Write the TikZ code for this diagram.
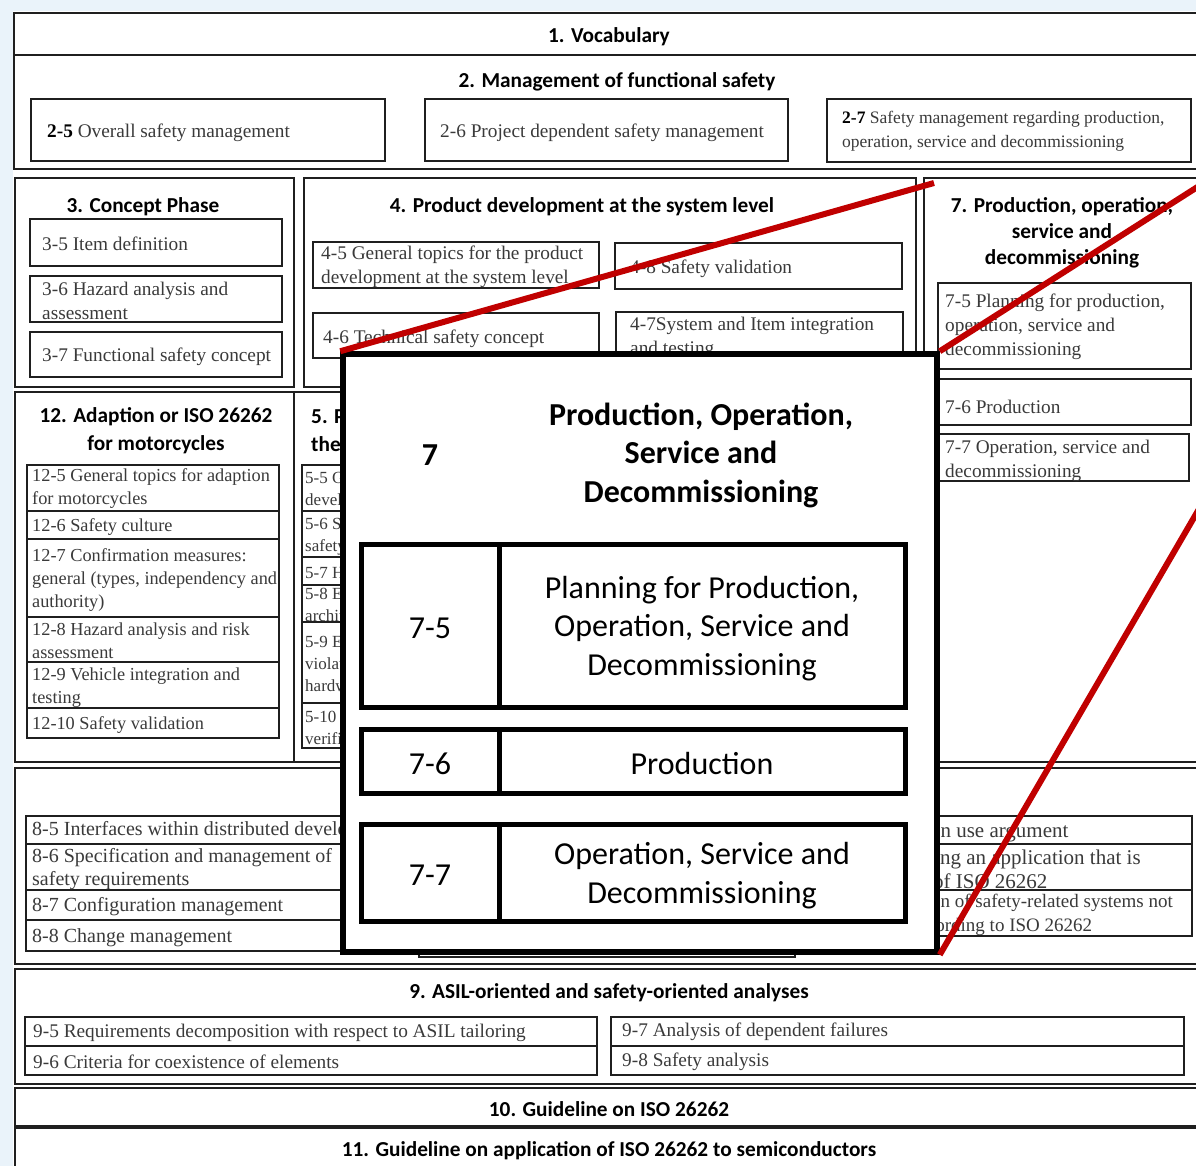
\documentclass[tikz,border=0pt]{standalone}
\usepackage{fontspec}
\setmainfont{Liberation Serif}
\newfontfamily\headfont{Carlito}

\definecolor{pagebg}{HTML}{EAF3FA}
\definecolor{framecol}{HTML}{1F1F1F}
\definecolor{bodycol}{HTML}{3A3A3A}
\definecolor{calloutred}{HTML}{C00000}

% rectangle node from its corners: [style]{x1}{y1}{x2}{y2}{name}{text}
\newcommand\rectnode[7][]{\node[#1,minimum width={(#4-#2)*1pt},minimum height={(#5-#3)*1pt}] (#6) at ({(#2+#4)/2},{(#3+#5)/2}) {#7};}

\begin{document}
\begin{tikzpicture}[x=1pt,y=-1pt,
  frm/.style={draw=framecol,line width=1.6pt,inner sep=0pt,outer sep=0pt},
  ibox/.style={draw=framecol,line width=1.4pt,inner sep=0pt,outer sep=0pt},
  hd/.style={font=\headfont\bfseries\fontsize{21.3}{26}\selectfont,text=black,align=center,inner sep=0pt,yshift=-1.5pt},
  bt/.style={font=\fontsize{19.3}{23.8}\selectfont,text=bodycol,align=left,inner sep=0pt,anchor=west,yshift=-2pt},
  btsmall/.style={bt,font=\fontsize{17.5}{24}\selectfont},
  btmoto/.style={bt,font=\fontsize{18.3}{23}\selectfont},
  bthw/.style={bt,font=\fontsize{17}{22}\selectfont},
  btsup/.style={bt,font=\fontsize{20}{23.5}\selectfont},
  btright/.style={bt,font=\fontsize{21}{24}\selectfont},
  zoombox/.style={draw=black,fill=white,line width=5.5pt,inner sep=0pt},
  cell/.style={draw=black,line width=5pt,inner sep=0pt,align=center,text depth=0pt,
    font=\headfont\fontsize{32}{38.5}\selectfont},
  celltext/.style={inner sep=0pt,align=center,font=\headfont\fontsize{32}{38.5}\selectfont,yshift=-3pt},
  zhead/.style={font=\headfont\bfseries\fontsize{32}{38.5}\selectfont,align=center,inner sep=0pt,yshift=-3pt},
  callout/.style={draw=calloutred,line width=6pt}]

\useasboundingbox (0,0) rectangle (1196,1166);
\fill[pagebg] (0,0) rectangle (1196,1166);
\fill[white] (13,11) rectangle (1196,1166);

\begin{scope}
\clip (0,0) rectangle (1196,1166);

% ---------- part frames ----------
\rectnode[frm]{14}{13}{1210}{55}{voc}{}
\rectnode[frm]{14}{55}{1210}{169}{mgmt}{}
\rectnode[frm]{15}{178}{294}{387}{concept}{}
\rectnode[frm]{304}{178}{916}{387}{sysdev}{}
\rectnode[frm]{924}{178}{1210}{762}{prod}{}
\rectnode[frm]{15}{392}{294}{762}{moto}{}
\rectnode[frm]{294}{392}{700}{762}{hwdev}{}
\rectnode[frm]{15}{768}{1210}{964}{support}{}
\rectnode[frm]{15}{969}{1210}{1084}{asil}{}
\rectnode[frm]{15}{1088}{1210}{1126}{guide}{}
\rectnode[frm]{15}{1128}{1210}{1180}{semi}{}

% ---------- part 1 and 2 ----------
\node[hd] (h1) at (609,35) {1. Vocabulary};
\node[hd] (h2) at (617,80) {2. Management of functional safety};
\rectnode[ibox]{31}{99}{385}{161}{b25}{}
\rectnode[ibox]{425}{99}{788}{161}{b26}{}
\rectnode[ibox]{827}{99}{1191}{162}{b27}{}
\node[bt] (t25) at (47,131) {\textcolor{black}{\bfseries 2-5} Overall safety management};
\node[bt] (t26) at (440,131) {2-6 Project dependent safety management};
\node[btsmall] (t27) at (842,129) {\textcolor{black}{\bfseries 2-7} Safety management regarding production,\\operation, service and decommissioning};

% ---------- part 3 ----------
\node[hd] (h3) at (143,205) {3. Concept Phase};
\rectnode[ibox]{30}{219}{282}{266}{b35}{}
\rectnode[ibox]{30}{276}{282}{322}{b36}{}
\rectnode[ibox]{30}{332}{282}{377}{b37}{}
\node[bt] (t35) at (42,242) {3-5 Item definition};
\node[bt] (t36) at (42,299) {3-6 Hazard analysis and\\assessment};
\node[bt] (t37) at (42,355) {3-7 Functional safety concept};

% ---------- part 4 ----------
\node[hd] (h4) at (582,205) {4. Product development at the system level};
\rectnode[ibox]{313}{242}{599}{288}{b45}{}
\rectnode[ibox]{615}{243}{902}{289}{b48}{}
\rectnode[ibox]{313}{313}{599}{358}{b46}{}
\rectnode[ibox]{616}{312}{903}{380}{b47}{}
\node[bt] (t45) at (321,265) {4-5 General topics for the product\\development at the system level};
\node[bt] (t48) at (630,267) {4-8 Safety validation};
\node[bt] (t46) at (323,337) {4-6 Technical safety concept};
\node[bt] (t47) at (630,336) {4-7System and Item integration\\and testing};

% ---------- part 7 ----------
\node[hd] (h7) at (1062,231) {7. Production, operation,\\service and\\decommissioning};
\rectnode[ibox]{938}{283}{1191}{369}{b75}{}
\rectnode[ibox]{938}{379}{1191}{425}{b76}{}
\rectnode[ibox]{938}{434}{1189}{481}{b77}{}
\node[bt] (t75) at (945,325) {7-5 Planning for production,\\operation, service and\\decommissioning};
\node[bt] (t76) at (945,405) {7-6 Production};
\node[bt] (t77) at (945,459) {7-7 Operation, service and\\decommissioning};

% ---------- part 12 ----------
\node[hd,font=\headfont\bfseries\fontsize{21.3}{28}\selectfont] (h12) at (156,429) {12. Adaption or ISO 26262\\for motorcycles};
\rectnode[ibox]{27}{465}{279}{511}{b125}{}
\rectnode[ibox]{27}{511}{279}{539}{b126}{}
\rectnode[ibox]{27}{539}{279}{617}{b127}{}
\rectnode[ibox]{27}{617}{279}{662}{b128}{}
\rectnode[ibox]{27}{662}{279}{708}{b129}{}
\rectnode[ibox]{27}{708}{279}{738}{b1210}{}
\node[btmoto] (t125) at (32,487) {12-5 General topics for adaption\\for motorcycles};
\node[btmoto] (t126) at (32,525) {12-6 Safety culture};
\node[btmoto] (t127) at (32,578) {12-7 Confirmation measures:\\general (types, independency and\\authority)};
\node[btmoto] (t128) at (32,639) {12-8 Hazard analysis and risk\\assessment};
\node[btmoto] (t129) at (32,686) {12-9 Vehicle integration and\\testing};
\node[btmoto] (t1210) at (32,723) {12-10 Safety validation};

% ---------- part 5 (mostly under the enlarged view) ----------
\node[hd,anchor=west,align=left,font=\headfont\bfseries\fontsize{21.3}{28}\selectfont] (h5) at (311,429) {5. Product development\\the};
\rectnode[ibox]{302}{465}{560}{511}{b55}{}
\rectnode[ibox]{302}{511}{560}{557}{b56}{}
\rectnode[ibox]{302}{557}{560}{585}{b57}{}
\rectnode[ibox]{302}{585}{560}{622}{b58}{}
\rectnode[ibox]{302}{622}{560}{703}{b59}{}
\rectnode[ibox]{302}{703}{560}{748}{b510}{}
\node[bthw] (t55) at (305,488) {5-5 General\\development};
\node[bthw] (t56) at (305,534) {5-6 Specification\\safety};
\node[bthw] (t57) at (305,571) {5-7 Hardware};
\node[bthw] (t58) at (305,603) {5-8 Evaluation\\architectural};
\node[bthw] (t59) at (305,662) {5-9 Evaluation\\violations\\hardware};
\node[bthw] (t510) at (305,726) {5-10 Hardware\\verification};

% ---------- part 8 ----------
\rectnode[ibox]{26}{816}{410}{844}{b85}{}
\rectnode[ibox]{26}{844}{410}{890}{b86}{}
\rectnode[ibox]{26}{890}{410}{920}{b87}{}
\rectnode[ibox]{26}{920}{410}{951}{b88}{}
\rectnode[ibox]{419}{816}{795}{957}{b8mid}{}
\rectnode[ibox]{821}{816}{1192}{844}{b814}{}
\rectnode[ibox]{821}{844}{1192}{890}{b815}{}
\rectnode[ibox]{821}{890}{1192}{936}{b816}{}
\node[btsup] (t85) at (32,829) {8-5 Interfaces within distributed developments};
\node[btsup] (t86) at (32,867) {8-6 Specification and management of\\safety requirements};
\node[btsup] (t87) at (32,905) {8-7 Configuration management};
\node[btsup] (t88) at (32,936) {8-8 Change management};
\node[btright] (t814) at (826,831) {8-14 Proven in use argument};
\node[btright] (t815) at (825,869) {8-15 Interfacing an application that is\\out of scope of ISO 26262};
\node[bt,font=\fontsize{19}{24}\selectfont] (t816) at (827,913) {8-16 Integration of safety-related systems not\\developed according to ISO 26262};

% ---------- part 9, 10, 11 ----------
\node[hd] (h9) at (609,991) {9. ASIL-oriented and safety-oriented analyses};
\rectnode[ibox]{25}{1017}{597}{1046}{b95}{}
\rectnode[ibox]{25}{1046}{597}{1075}{b96}{}
\rectnode[ibox]{611}{1017}{1184}{1046}{b97}{}
\rectnode[ibox]{611}{1046}{1184}{1075}{b98}{}
\node[bt] (t95) at (33,1031) {9-5 Requirements decomposition with respect to ASIL tailoring};
\node[bt] (t96) at (33,1060) {9-6 Criteria for coexistence of elements};
\node[bt] (t97) at (622,1030) {9-7 Analysis of dependent failures};
\node[bt] (t98) at (622,1060) {9-8 Safety analysis};
\node[hd] (h10) at (609,1108) {10. Guideline on ISO 26262};
\node[hd] (h11) at (609,1149) {11. Guideline on application of ISO 26262 to semiconductors};

% ---------- enlarged view of part 7 ----------
\rectnode[zoombox]{343}{354}{937}{952}{zoom}{}
\node[zhead] (z7) at (430,452) {7};
\node[zhead] (ztitle) at (701,452) {Production, Operation,\\Service and\\Decommissioning};
\rectnode[cell]{361}{544}{499}{707}{c75a}{}
\rectnode[cell]{499}{544}{905}{707}{c75b}{}
\rectnode[cell]{361}{729}{499}{793}{c76a}{}
\rectnode[cell]{499}{729}{905}{793}{c76b}{}
\rectnode[cell]{361}{824}{499}{921}{c77a}{}
\rectnode[cell]{499}{824}{905}{921}{c77b}{}
\node[celltext] (z75) at (c75a.center) {7-5};
\node[celltext] (z75t) at (c75b.center) {Planning for Production,\\Operation, Service and\\Decommissioning};
\node[celltext] (z76) at (c76a.center) {7-6};
\node[celltext] (z76t) at (c76b.center) {Production};
\node[celltext] (z77) at (c77a.center) {7-7};
\node[celltext] (z77t) at (c77b.center) {Operation, Service and\\Decommissioning};

% ---------- callout lines ----------
\coordinate (p1) at (934,183);
\coordinate (p2) at (1210,179);
\coordinate (p3) at (1210,490);
\draw[callout] (zoom.north west) -- (p1);
\draw[callout] (zoom.north east) -- (p2);
\draw[callout] (zoom.south east) -- (p3);
\end{scope}
\end{tikzpicture}
\end{document}
